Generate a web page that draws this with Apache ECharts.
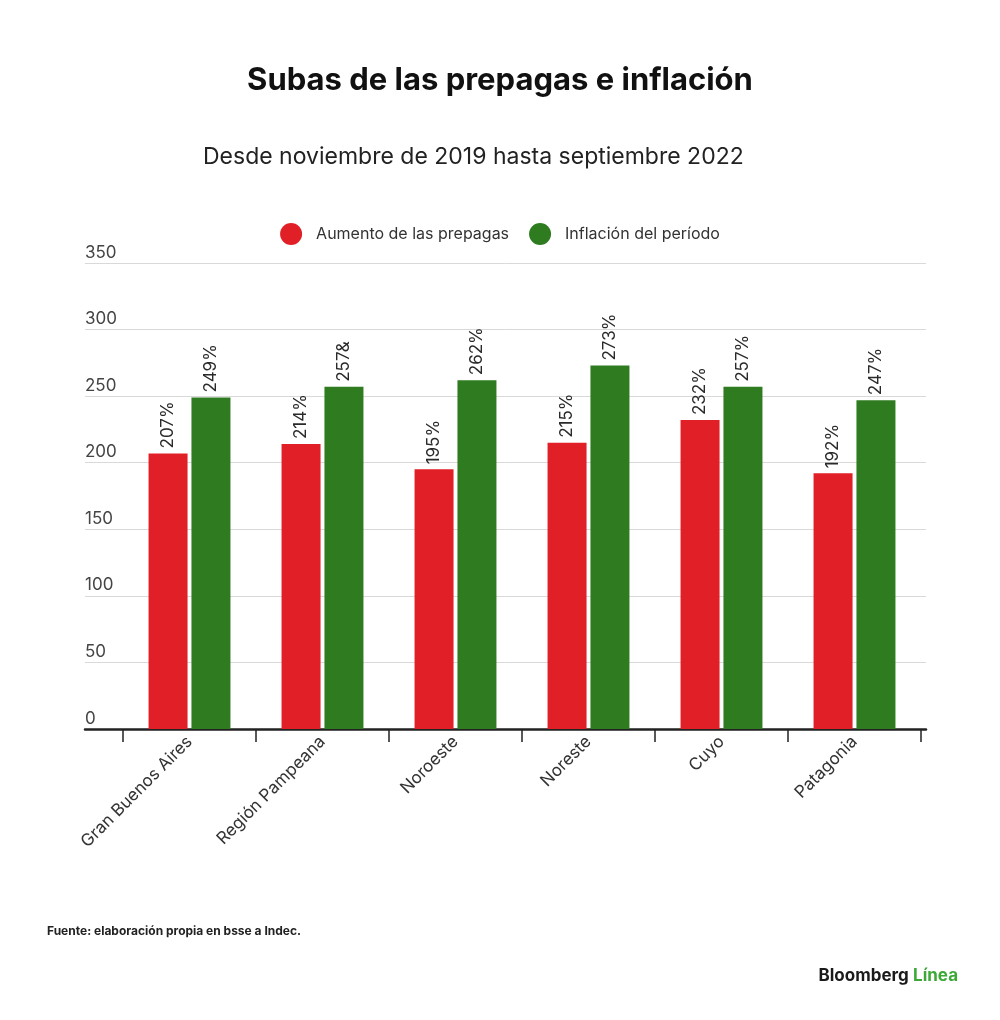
<!DOCTYPE html>
<html>
<head>
<meta charset="utf-8">
<script src="https://cdn.jsdelivr.net/npm/echarts@6/dist/echarts.min.js"></script>
<style>
html,body{margin:0;padding:0;background:#fff;}
#chart{width:1000px;height:1020px;}
</style>
</head>
<body>
<div id="chart"></div>
<script>
const categories = ['Gran Buenos Aires', 'Región Pampeana', 'Noroeste', 'Noreste', 'Cuyo', 'Patagonia'];
const prepagas = [207, 214, 195, 215, 232, 192];
const inflacion = [249, 257, 262, 273, 257, 247];
const prepagasLabels = ['207%', '214%', '195%', '215%', '232%', '192%'];
const inflacionLabels = ['249%', '257&', '262%', '273%', '257%', '247%'];
const seriesNames = ['Aumento de las prepagas', 'Inflación del período'];
const yTicks = [0, 50, 100, 150, 200, 250, 300, 350];

const FONT = 'Inter, "Noto Sans", sans-serif';
const RED = '#e11f26';
const GREEN = '#2e7b20';

const chart = echarts.init(document.getElementById('chart'), null, {renderer: 'canvas'});
const barLabel = (labels) => ({
  show: true,
  position: 'top',
  rotate: 90,
  align: 'left',
  verticalAlign: 'middle',
  distance: 5,
  fontFamily: FONT,
  fontSize: 17,
  color: '#2a2a2a',
  formatter: (p) => labels[p.dataIndex]
});

chart.setOption({
  backgroundColor: '#fff',
  textStyle: {fontFamily: FONT},
  title: [
    {
      text: 'Subas de las prepagas e inflación',
      left: 'center', top: 60,
      textStyle: {fontFamily: FONT, fontSize: 31, fontWeight: 'bold', color: '#111'}
    },
    {
      text: 'Desde noviembre de 2019 hasta septiembre 2022',
      left: 198, top: 141,
      textStyle: {fontFamily: FONT, fontSize: 23, fontWeight: 'normal', color: '#222'}
    },
    {
      text: 'Fuente: elaboración propia en bsse a Indec.',
      left: 42, top: 920,
      textStyle: {fontFamily: FONT, fontSize: 12, fontWeight: 'bold', color: '#222'}
    },
    {
      text: '{a|Bloomberg} {b|Línea}',
      right: 37, top: 962,
      textStyle: {
        rich: {
          a: {fontFamily: FONT, fontSize: 17, fontWeight: 'bold', color: '#1a1a1a'},
          b: {fontFamily: FONT, fontSize: 17, fontWeight: 'bold', color: '#3aa935'}
        }
      }
    }
  ],
  legend: {
    top: 218,
    left: 'center',
    icon: 'circle',
    itemWidth: 22,
    itemHeight: 22,
    itemGap: 20,
    textStyle: {fontFamily: FONT, fontSize: 16, color: '#333', padding: [0, 0, 0, 9]},
    data: seriesNames
  },
  grid: [
    {left: 85, right: 74, top: 263, bottom: 291},
    {left: 123, right: 79, top: 263, bottom: 291}
  ],
  xAxis: [
    {
      type: 'category', gridIndex: 0, data: [''],
      axisLine: {show: true, lineStyle: {color: '#222', width: 2.5}},
      axisTick: {show: false}, axisLabel: {show: false}, splitLine: {show: false}
    },
    {
      type: 'category', gridIndex: 1, data: categories,
      axisLine: {show: false},
      axisTick: {show: true, length: 13, interval: 0, lineStyle: {color: '#222', width: 1.5}},
      axisLabel: {
        interval: 0, rotate: 45, margin: 10,
        fontFamily: FONT, fontSize: 17, color: '#333'
      }
    }
  ],
  yAxis: [
    {
      type: 'value', gridIndex: 0, min: 0, max: 350, interval: 50,
      axisLine: {show: false}, axisTick: {show: false},
      splitLine: {show: true, lineStyle: {color: '#d9d9d9', width: 1}},
      axisLabel: {
        inside: true, align: 'left', verticalAlign: 'bottom', margin: 0,
        padding: [0, 0, 2, 0],
        fontFamily: FONT, fontSize: 17, color: '#444',
        formatter: (v) => yTicks.includes(v) ? String(v) : ''
      }
    },
    {
      type: 'value', gridIndex: 1, min: 0, max: 350, interval: 50,
      axisLine: {show: false}, axisTick: {show: false},
      axisLabel: {show: false}, splitLine: {show: false}
    }
  ],
  series: [
    {
      name: seriesNames[0], type: 'bar', xAxisIndex: 1, yAxisIndex: 1,
      data: prepagas, barWidth: 39, barGap: '10%',
      itemStyle: {color: RED},
      label: barLabel(prepagasLabels),
      z: 3
    },
    {
      name: seriesNames[1], type: 'bar', xAxisIndex: 1, yAxisIndex: 1,
      data: inflacion, barWidth: 39, barGap: '10%',
      itemStyle: {color: GREEN},
      label: barLabel(inflacionLabels),
      z: 3
    }
  ]
});
</script>
</body>
</html>
